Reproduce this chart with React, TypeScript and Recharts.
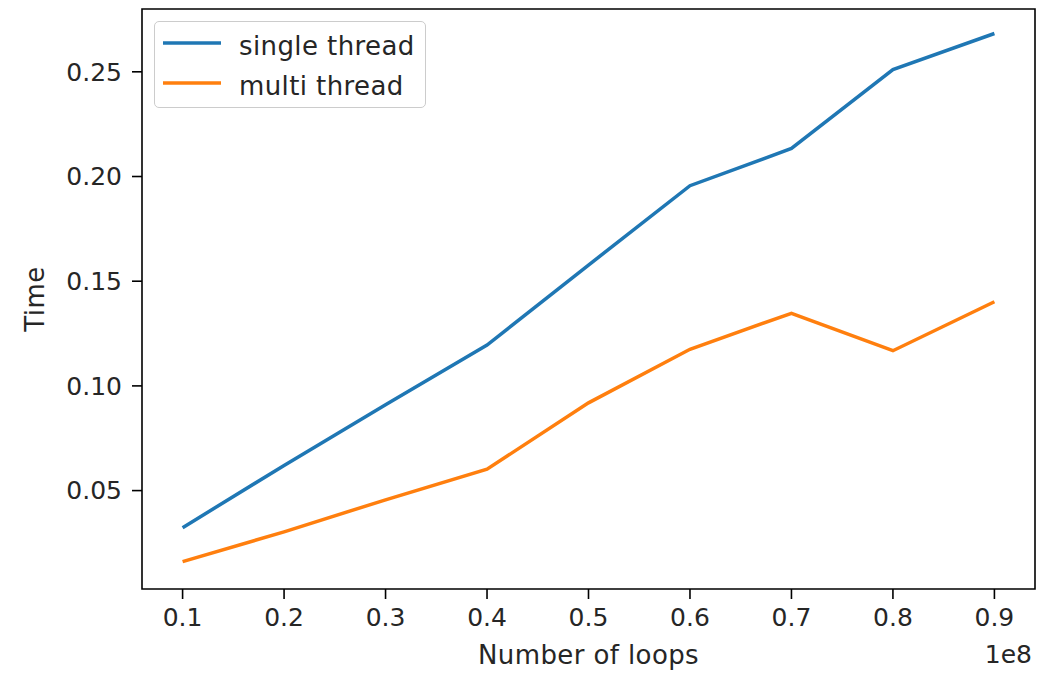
import React from 'react';
import { LineChart, Line, XAxis, YAxis, ReferenceArea, Legend, Label } from 'recharts';

const loops = [0.1, 0.2, 0.3, 0.4, 0.5, 0.6, 0.7, 0.8, 0.9];
const singleThread = [0.0323, 0.062, 0.091, 0.1195, 0.1577, 0.1956, 0.2134, 0.2511, 0.2683];
const multiThread = [0.0161, 0.0303, 0.0456, 0.0602, 0.0919, 0.1175, 0.1347, 0.1168, 0.1402];
const xTicks = [0.1, 0.2, 0.3, 0.4, 0.5, 0.6, 0.7, 0.8, 0.9];
const yTicks = [0.05, 0.1, 0.15, 0.2, 0.25];
const xDomain: [number, number] = [0.06, 0.94];
const yDomain: [number, number] = [0.003, 0.28];
const seriesNames = ['single thread', 'multi thread'];
const colors = ['#1f77b4', '#ff7f0e'];

const data = loops.map((x, i) => ({ x, single: singleThread[i], multi: multiThread[i] }));

const FONT = 'DejaVu Sans';
const FS = 25;
const LFS = 26;
const LS = 0.4;
const TEXT = '#262626';

const LegendBox = () => (
  <div
    style={{
      width: 272,
      height: 87,
      boxSizing: 'border-box',
      border: '1.5px solid #cccccc',
      borderRadius: 5,
      background: 'rgba(255,255,255,0.8)',
    }}
  >
    <svg width={270} height={85} style={{ display: 'block' }}>
      {seriesNames.map((name, i) => (
        <g key={name}>
          <line x1={8} x2={66} y1={21 + i * 40} y2={21 + i * 40} stroke={colors[i]} strokeWidth={3.5} />
          <text x={84} y={32.5 + i * 40} fontFamily={FONT} fontSize={LFS} letterSpacing={LS} fill={TEXT}>
            {name}
          </text>
        </g>
      ))}
    </svg>
  </div>
);

export default function App() {
  return (
    <div style={{ position: 'absolute', left: 0, top: 0, background: '#fff' }}>
      <LineChart width={1053} height={674} data={data} margin={{ top: 9, right: 18, left: 0, bottom: 0 }}>
        <XAxis
          dataKey="x"
          type="number"
          domain={xDomain}
          ticks={xTicks}
          allowDataOverflow
          height={85}
          axisLine={false}
          tickLine={{ stroke: '#000', strokeWidth: 1.6 }}
          tickSize={10}
          tickMargin={9}
          tick={{ fontFamily: FONT, fontSize: FS, fill: TEXT }}
          tickFormatter={(v: number) => v.toFixed(1)}
        >
          <Label
            content={(props: any) => {
              const vb = props.viewBox || {};
              return (
                <g>
                  <text x={vb.x + vb.width / 2} y={vb.y + 75} textAnchor="middle" fontFamily={FONT} fontSize={LFS} letterSpacing={LS} fill={TEXT}>
                    Number of loops
                  </text>
                  <text x={vb.x + vb.width - 3} y={vb.y + 74} textAnchor="end" fontFamily={FONT} fontSize={FS} fill={TEXT}>
                    1e8
                  </text>
                </g>
              );
            }}
          />
        </XAxis>
        <YAxis
          type="number"
          domain={yDomain}
          ticks={yTicks}
          allowDataOverflow
          width={142}
          axisLine={false}
          tickLine={{ stroke: '#000', strokeWidth: 1.6 }}
          tickSize={10}
          tickMargin={10}
          tick={{ fontFamily: FONT, fontSize: FS, fill: TEXT }}
          tickFormatter={(v: number) => v.toFixed(2)}
        >
          <Label
            content={(props: any) => {
              const vb = props.viewBox || {};
              const cy = vb.y + vb.height / 2;
              return (
                <text x={44} y={cy} transform={`rotate(-90, 44, ${cy})`} textAnchor="middle" fontFamily={FONT} fontSize={LFS} letterSpacing={LS} fill={TEXT}>
                  Time
                </text>
              );
            }}
          />
        </YAxis>
        <ReferenceArea
          x1={xDomain[0]}
          x2={xDomain[1]}
          y1={yDomain[0]}
          y2={yDomain[1]}
          fill="none"
          stroke="#000"
          strokeWidth={1.6}
          ifOverflow="visible"
        />
        <Line dataKey="single" stroke={colors[0]} strokeWidth={3.5} dot={false} isAnimationActive={false} />
        <Line dataKey="multi" stroke={colors[1]} strokeWidth={3.5} dot={false} isAnimationActive={false} />
        <Legend
          layout="vertical"
          align="center"
          verticalAlign="middle"
          wrapperStyle={{ left: 154, top: 21, width: 272, height: 87 }}
          content={() => <LegendBox />}
        />
      </LineChart>
    </div>
  );
}
